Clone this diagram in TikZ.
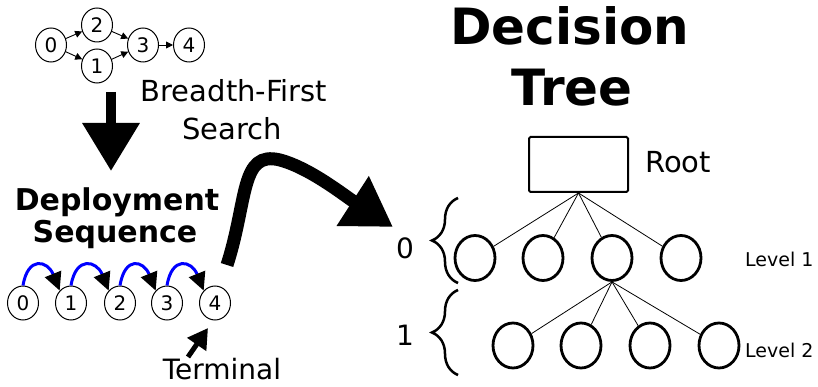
\documentclass[tikz,border=0pt]{standalone}
\usepackage{fontspec}
\setmainfont{DejaVu Sans}
\usetikzlibrary{arrows.meta,decorations.pathreplacing,shapes.geometric}
\newcommand{\fsz}[1]{\fontsize{#1}{#1}\selectfont}
\begin{document}
\begin{tikzpicture}[x=1pt,y=-1pt,
  gnode/.style={ellipse,draw,line width=1pt,minimum width=31pt,minimum height=34pt,inner sep=0pt,font=\fsz{20}},
  tnode/.style={ellipse,draw,line width=2.8pt,minimum width=40pt,minimum height=45pt,inner sep=0pt},
  garrow/.style={-{Triangle[length=7pt,width=7pt]},line width=0.9pt},
  hop/.style={blue,line width=3pt,-{Triangle[length=18pt,width=17pt,color=black]}},
  tedge/.style={line width=0.8pt},
  brc/.style={decorate,decoration={brace,amplitude=26pt},line width=2.5pt},
  lbl/.style={anchor=base,inner sep=0pt},
]
\useasboundingbox (0,0) rectangle (818,387);
% top graph
\node[gnode] (a0) at (51,45) {0};
\node[gnode] (a2) at (97,25) {2};
\node[gnode] (a1) at (97,66) {1};
\node[gnode] (a3) at (143,45) {3};
\node[gnode] (a4) at (189,45) {4};
\draw[garrow] (a0) -- (a2);
\draw[garrow] (a0) -- (a1);
\draw[garrow] (a2) -- (a3);
\draw[garrow] (a1) -- (a3);
\draw[garrow] (a3) -- (a4);
% down arrow
\coordinate (dtop) at (111,92);
\coordinate (dbot) at (111,171);
\draw[line width=10pt,-{Triangle[length=48pt,width=55pt]}] (dtop) -- (dbot);
\node[lbl,font=\fsz{29}] (bfs1) at (234,102) {Breadth-First};
\node[lbl,font=\fsz{29}] (bfs2) at (232,140) {Search};
\node[lbl,font=\fsz{30}\bfseries] (dep1) at (117,211) {Deployment};
\node[lbl,font=\fsz{30}\bfseries] (dep2) at (115,242) {Sequence};
% sequence
\node[gnode] (s0) at (23,303) {0};
\node[gnode] (s1) at (71,303) {1};
\node[gnode] (s2) at (120,303) {2};
\node[gnode] (s3) at (167,303) {3};
\node[gnode] (s4) at (215,303) {4};
\draw[hop] (s0.north) .. controls +(5,-30) and +(-12,-30) .. (s1.north west);
\draw[hop] (s1.north) .. controls +(5,-30) and +(-12,-30) .. (s2.north west);
\draw[hop] (s2.north) .. controls +(5,-30) and +(-12,-30) .. (s3.north west);
\draw[hop] (s3.north) .. controls +(5,-30) and +(-12,-30) .. (s4.north west);
% terminal
\coordinate (ttail) at (188,357);
\coordinate (ttip) at (208,328);
\draw[line width=5pt,-{Triangle[length=20pt,width=22pt]}] (ttail) -- (ttip);
\node[lbl,font=\fsz{28}] (term) at (222,379) {Terminal};
% big curved arrow
\coordinate (ctail) at (227,265);
\coordinate (ctip) at (393,227);
\draw[line width=13pt,-{Triangle[length=48pt,width=56pt]}] (ctail) .. controls (248,200) and (240,150) .. (280,160) .. controls (310,168) and (345,196) .. (ctip);
% title
\node[lbl,font=\fsz{50}\bfseries] (t1) at (570,45) {Decision};
\node[lbl,font=\fsz{50}\bfseries] (t2) at (572,106) {Tree};
% tree
\node[draw,line width=2pt,rounded corners=1.5pt,minimum width=99pt,minimum height=55pt,inner sep=0pt] (root) at (578.5,164.5) {};
\node[anchor=base west,inner sep=0pt,font=\fsz{29}] (rootl) at (645,173) {Root};
\node[tnode] (l1) at (475,258) {};
\node[tnode] (l2) at (543,258) {};
\node[tnode] (l3) at (612,258) {};
\node[tnode] (l4) at (681,258) {};
\node[tnode] (m1) at (513,345.5) {};
\node[tnode] (m2) at (581,345.5) {};
\node[tnode] (m3) at (650,345.5) {};
\node[tnode] (m4) at (719,345.5) {};
\foreach \n in {l1,l2,l3,l4} \draw[tedge] (root.south) -- (\n);
\foreach \n in {m1,m2,m3,m4} \draw[tedge] (l3.south) -- (\n);
\node[anchor=base west,inner sep=0pt,font=\fsz{19}] (lv1) at (745,266) {Level 1};
\node[anchor=base west,inner sep=0pt,font=\fsz{19}] (lv2) at (745,357) {Level 2};
% braces
\coordinate (b1a) at (458,283);
\coordinate (b1b) at (458,198);
\coordinate (b2a) at (458,375);
\coordinate (b2b) at (458,290);
\draw[brc] (b1a) -- (b1b);
\draw[brc] (b2a) -- (b2b);
\node[lbl,font=\fsz{28}] (z0) at (405,258) {0};
\node[lbl,font=\fsz{28}] (z1) at (405,345) {1};
\end{tikzpicture}
\end{document}
